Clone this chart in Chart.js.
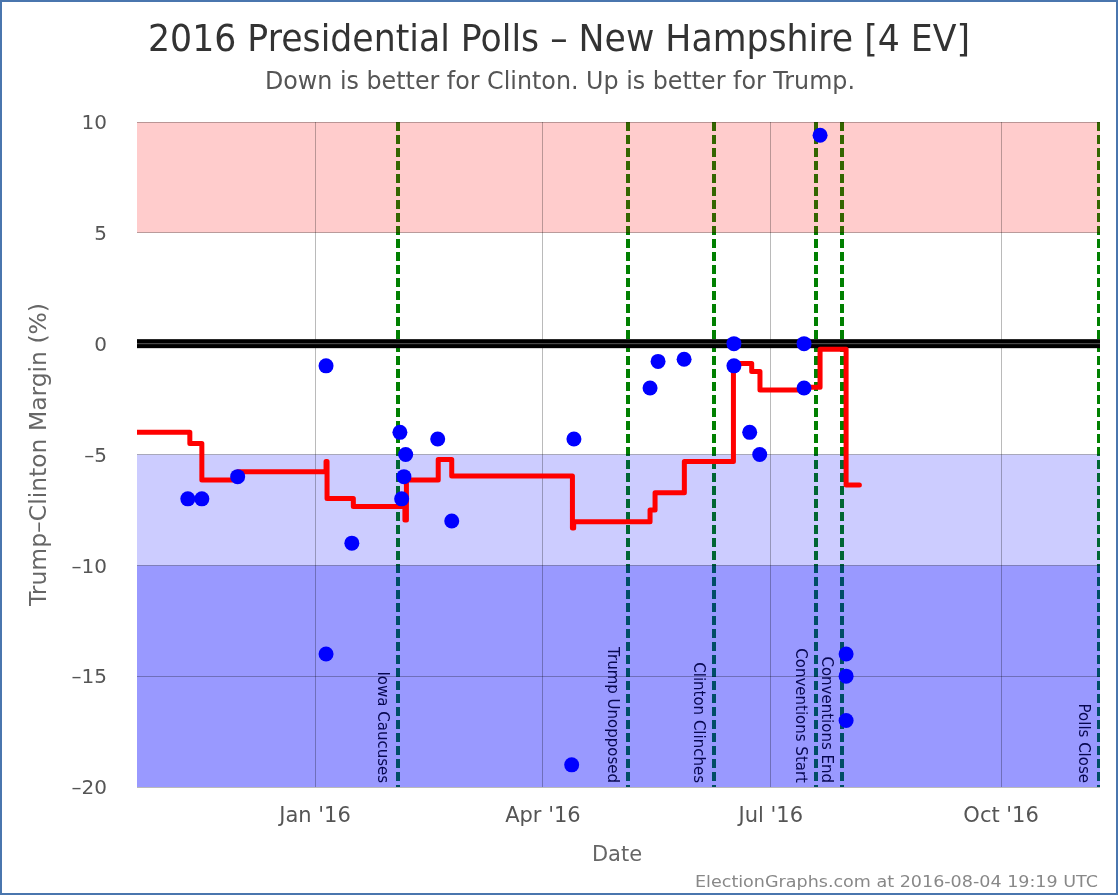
<!DOCTYPE html>
<html>
<head>
<meta charset="utf-8">
<script src="https://cdn.jsdelivr.net/npm/chart.js@4/dist/chart.umd.min.js"></script>
<style>
  html, body { margin: 0; padding: 0; background: #ffffff; }
  canvas { display: block; }
</style>
</head>
<body>
<canvas id="c" width="1120" height="896"></canvas>
<script>
// ---- Data (x = days since Jan 1 2016) ----
const tickDays = [0, 91, 182, 274];
const tickLabels = ["Jan '16", "Apr '16", "Jul '16", "Oct '16"];

const pollDays = [-50.8, -45.2, -30.9, 4.4, 4.4, 14.7, 33.9, 36.2, 35.5, 34.6, 49.0, 54.6,
  103.4, 102.5, 133.8, 137.0, 147.4, 167.3, 167.3, 173.6, 177.6, 195.3, 195.3, 201.7,
  212.1, 212.1, 212.1];
const pollMargins = [-7, -7, -6, -1, -14, -9, -4, -5, -6, -7, -4.3, -8,
  -4.3, -19, -2, -0.8, -0.7, 0, -1, -4, -5, 0, -2, 9.4,
  -14, -15, -17];

const avgDays = [-71.1, -50, -45.2, -30.8, 4.4, 4.8, 15.3, 35.9, 36.5, 49.2, 54.6,
  102.8, 103.3, 133.8, 135.8, 147.5, 167.1, 174.4, 177.7, 195.3, 201.7, 212.1, 217.4];
const avgMargins = [-4.0, -4.5, -6.15, -5.78, -5.32, -6.98, -7.35, -7.95, -6.15, -5.22, -5.97,
  -8.32, -8.03, -7.5, -6.72, -5.32, -0.89, -1.26, -2.09, -1.97, -0.25, -6.38, -6.38];

const eventDays = [33.1, 124.8, 159.3, 200.0, 210.5, 313.3];
const eventNames = ["Iowa Caucuses", "Trump Unopposed", "Clinton Clinches",
  "Conventions Start", "Conventions End", "Polls Close"];

const bandLow = [5, -10, -20];
const bandHigh = [10, -5, -10];
const bandColors = ["rgba(255,0,0,0.2)", "rgba(0,0,255,0.2)", "rgba(0,0,255,0.4)"];

const xMin = -71.1, xMax = 313.5;
const yMin = -20, yMax = 10, yStep = 5;

const FONT = "'DejaVu Sans', sans-serif";

function fitText(ctx, text, x, y, size, color, targetW, align, rot) {
  ctx.save();
  ctx.font = size + "px " + FONT;
  ctx.fillStyle = color;
  ctx.textBaseline = "alphabetic";
  ctx.textAlign = "left";
  const w = ctx.measureText(text).width;
  const sx = targetW ? targetW / w : 1;
  const drawnW = w * sx;
  ctx.translate(x, y);
  if (rot) ctx.rotate(rot);
  let start = 0;
  if (align === "center") start = -drawnW / 2;
  else if (align === "right") start = -drawnW;
  ctx.translate(start, 0);
  ctx.scale(sx, 1);
  ctx.fillText(text, 0, 0);
  ctx.restore();
}

const decor = {
  id: "decor",
  beforeDraw(chart) {
    const { ctx, chartArea: a, scales: { x, y } } = chart;
    ctx.save();
    ctx.fillStyle = "#ffffff";
    ctx.fillRect(0, 0, chart.width, chart.height);
    ctx.beginPath();
    ctx.rect(a.left, a.top, a.right - a.left, a.bottom - a.top);
    ctx.clip();
    // event lines (under the bands)
    ctx.strokeStyle = "#008000";
    ctx.lineWidth = 4;
    ctx.setLineDash([9, 4]);
    eventDays.forEach(d => {
      const px = Math.round(x.getPixelForValue(d));
      ctx.beginPath();
      ctx.moveTo(px, a.top);
      ctx.lineTo(px, a.bottom);
      ctx.stroke();
    });
    ctx.setLineDash([]);
    // bands
    bandLow.forEach((lo, i) => {
      const top = y.getPixelForValue(bandHigh[i]);
      const bot = y.getPixelForValue(lo);
      ctx.fillStyle = bandColors[i];
      ctx.fillRect(a.left, top, a.right - a.left, bot - top);
    });
    ctx.restore();
  },
  beforeDatasetsDraw(chart) {
    const { ctx, chartArea: a, scales: { x, y } } = chart;
    ctx.save();
    // zero line
    const y0 = y.getPixelForValue(0);
    ctx.fillStyle = "#000000";
    ctx.fillRect(a.left, y0 - 4.5, a.right - a.left, 9);
    ctx.fillStyle = "rgba(110,110,110,0.8)";
    ctx.fillRect(a.left, y0 - 0.5, a.right - a.left, 1);
    // event labels
    ctx.font = "15px " + FONT;
    ctx.fillStyle = "#07074f";
    ctx.textAlign = "right";
    ctx.textBaseline = "alphabetic";
    eventDays.forEach((d, i) => {
      const px = x.getPixelForValue(d);
      ctx.save();
      ctx.translate(px - 20, a.bottom - 4);
      ctx.rotate(Math.PI / 2);
      ctx.fillText(eventNames[i], 0, 0);
      ctx.restore();
    });
    ctx.restore();
  },
  afterDraw(chart) {
    const { ctx, chartArea: a } = chart;
    fitText(ctx, "2016 Presidential Polls \u2013 New Hampshire [4 EV]", 559, 51, 38, "#333333", 822, "center");
    fitText(ctx, "Down is better for Clinton. Up is better for Trump.", 560, 89, 24, "#555555", 590, "center");
    fitText(ctx, "Date", 617, 861, 21, "#666666", 0, "center");
    fitText(ctx, "Trump\u2013Clinton Margin (%)", 46, (a.top + a.bottom) / 2, 23, "#666666", 303, "center", -Math.PI / 2);
    fitText(ctx, "ElectionGraphs.com at 2016-08-04 19:19 UTC", 1098, 887, 16, "#888888", 403, "right");
    ctx.save();
    ctx.strokeStyle = "#4a76ae";
    ctx.lineWidth = 2;
    ctx.strokeRect(1, 1, 1116, 893);
    ctx.restore();
  }
};

const polls = pollDays.map((d, i) => ({ x: d, y: pollMargins[i] }));
const avg = avgDays.map((d, i) => ({ x: d, y: avgMargins[i] }));

new Chart(document.getElementById("c"), {
  type: "scatter",
  data: {
    datasets: [
      {
        type: "scatter",
        data: polls,
        pointRadius: 7.5,
        pointHoverRadius: 7.5,
        backgroundColor: "#0000ff",
        borderWidth: 0,
        order: 0
      },
      {
        type: "line",
        data: avg,
        stepped: true,
        borderColor: "#ff0000",
        borderWidth: 5,
        borderCapStyle: "round",
        borderJoinStyle: "round",
        pointRadius: 0,
        fill: false,
        order: 1
      }
    ]
  },
  options: {
    responsive: false,
    animation: false,
    devicePixelRatio: 1,
    layout: { padding: { top: 122, right: 20, left: 0, bottom: 0 } },
    plugins: { legend: { display: false }, tooltip: { enabled: false }, title: { display: false } },
    scales: {
      x: {
        type: "linear",
        min: xMin,
        max: xMax,
        afterBuildTicks: s => { s.ticks = tickDays.map(v => ({ value: v })); },
        afterFit: s => { s.height = 109; },
        ticks: {
          callback: v => tickLabels[tickDays.indexOf(v)],
          font: { family: FONT, size: 21 },
          color: "#555555",
          padding: 17,
          maxRotation: 0,
          autoSkip: false
        },
        grid: { color: "rgba(0,0,0,0.27)", drawTicks: false },
        border: { display: false }
      },
      y: {
        min: yMin,
        max: yMax,
        afterFit: s => { s.width = 137; },
        ticks: {
          stepSize: yStep,
          callback: v => (v < 0 ? "\u2013" + Math.abs(v) : String(v)),
          font: { family: FONT, size: 20 },
          color: "#555555",
          padding: 30,
          labelOffset: 2
        },
        grid: { color: "rgba(0,0,0,0.27)", drawTicks: false },
        border: { display: false }
      }
    }
  },
  plugins: [decor]
});
</script>
</body>
</html>
